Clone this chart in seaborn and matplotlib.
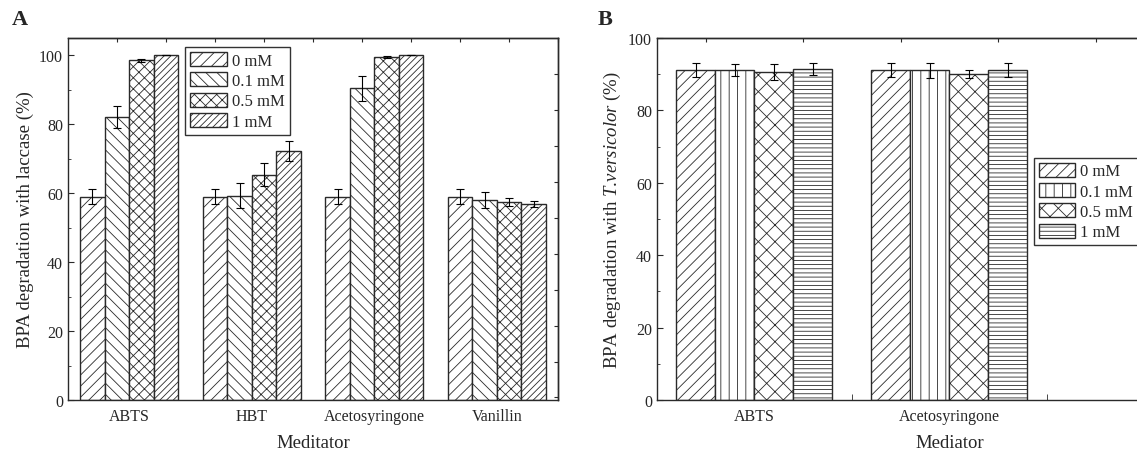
import numpy as np
import pandas as pd
import matplotlib
matplotlib.use('Agg')
import matplotlib.pyplot as plt
import seaborn as sns
from matplotlib.ticker import MultipleLocator, FixedLocator

# Data - panel A (laccase)
conc_levels = ['0 mM', '0.1 mM', '0.5 mM', '1 mM']
mediators_a = ['ABTS', 'HBT', 'Acetosyringone', 'Vanillin']
vals_a = {
    '0 mM':   [59.0, 59.0, 59.0, 59.0],
    '0.1 mM': [82.2, 59.2, 90.4, 58.0],
    '0.5 mM': [98.5, 65.4, 99.4, 57.4],
    '1 mM':   [100.0, 72.2, 100.0, 56.9],
}
errs_a = {
    '0 mM':   [2.1, 2.1, 2.1, 2.1],
    '0.1 mM': [3.2, 3.6, 3.7, 2.4],
    '0.5 mM': [0.4, 3.2, 0.3, 1.1],
    '1 mM':   [0.0, 3.0, 0.0, 0.8],
}

# Data - panel B (T. versicolor)
mediators_b = ['ABTS', 'Acetosyringone']
vals_b = {
    '0 mM':   [91.1, 91.1],
    '0.1 mM': [91.1, 91.1],
    '0.5 mM': [90.5, 90.0],
    '1 mM':   [91.5, 91.1],
}
errs_b = {
    '0 mM':   [1.9, 1.9],
    '0.1 mM': [1.6, 2.1],
    '0.5 mM': [2.2, 1.1],
    '1 mM':   [1.7, 2.0],
}

hatches_a = ['///', '\\\\\\', 'xxx', '/////']
hatches_b = ['///', '||', 'xx', '----']


def to_long(mediators, vals):
    rows = []
    for c in conc_levels:
        for m, v in zip(mediators, vals[c]):
            rows.append({'Mediator': m, 'conc': c, 'value': v})
    return pd.DataFrame(rows)


sns.set_style('ticks')
plt.rcParams['font.family'] = ['Liberation Serif', 'DejaVu Serif']
plt.rcParams['mathtext.fontset'] = 'custom'
plt.rcParams['mathtext.rm'] = 'Liberation Serif'
plt.rcParams['mathtext.it'] = 'Liberation Serif:italic'
plt.rcParams['hatch.linewidth'] = 0.6
plt.rcParams['axes.linewidth'] = 1.0

EDGE = '#2a2a2a'


def draw_panel(ax, mediators, vals, errs, hatches):
    df = to_long(mediators, vals)
    sns.barplot(data=df, x='Mediator', y='value', hue='conc', order=mediators,
                hue_order=conc_levels, palette=['white'] * 4, edgecolor=EDGE,
                linewidth=1.0, errorbar=None, width=0.8, ax=ax, legend=False)
    for cont, h, c in zip(ax.containers, hatches, conc_levels):
        xs, ys = [], []
        for bar in cont:
            bar.set_hatch(h)
            xs.append(bar.get_x() + bar.get_width() / 2)
            ys.append(bar.get_height())
        ax.errorbar(xs, ys, yerr=errs[c], fmt='none', ecolor='black',
                    elinewidth=0.8, capsize=3, capthick=0.8)
    for s in ax.spines.values():
        s.set_visible(True)
        s.set_color(EDGE)
    ax.tick_params(axis='both', which='both', direction='in', labelsize=11.5,
                   color=EDGE)
    ax.tick_params(axis='x', which='major', length=0, pad=6)
    ax.tick_params(axis='y', which='major', length=4.5)
    ax.tick_params(axis='y', which='minor', length=2.5)
    ax.yaxis.set_major_locator(MultipleLocator(20))
    ax.yaxis.set_minor_locator(MultipleLocator(10))


def add_legend(ax, anchor):
    ax.legend(ax.containers, conc_levels, loc='upper left',
              bbox_to_anchor=anchor, borderaxespad=0, fontsize=12,
              fancybox=False, edgecolor='#333333', framealpha=1,
              handlelength=2.2, handleheight=0.9, labelspacing=0.22,
              handletextpad=0.3, borderpad=0.3)


fig = plt.figure(figsize=(11.37, 4.52), dpi=100)

# Panel A
ax1 = fig.add_axes([0.0598, 0.1128, 0.431, 0.801])
draw_panel(ax1, mediators_a, vals_a, errs_a, hatches_a)
ax1.set_xlim(-0.5, 3.5)
ax1.set_ylim(0, 105)
ax1.set_xlabel('Meditator', fontsize=13.5, labelpad=7)
ax1.set_ylabel('BPA degradation with laccase (%)', fontsize=13.5)
top1 = ax1.secondary_xaxis('top')
top1.set_xticks(np.arange(-0.1, 3.6, 0.4))
top1.tick_params(direction='in', length=3, labeltop=False, color=EDGE)
right1 = ax1.secondary_yaxis('right')
right1.set_yticks(np.arange(94.6, 0, -10.43))
right1.tick_params(direction='in', length=3, labelright=False, color=EDGE)
add_legend(ax1, (0.239, 0.975))
fig.text(0.0105, 0.955, 'A', fontsize=16, fontweight='bold', va='center')

# Panel B
ax2 = fig.add_axes([0.5778, 0.1128, 0.5145, 0.801])
draw_panel(ax2, mediators_b, vals_b, errs_b, hatches_b)
ax2.set_xlim(-0.5, 2.5)
ax2.set_ylim(0, 100)
ax2.xaxis.set_minor_locator(FixedLocator([0.5, 1.5]))
ax2.tick_params(axis='x', which='minor', length=4, bottom=True)
ax2.set_xlabel('Mediator', fontsize=13.5, labelpad=7)
ax2.set_ylabel('BPA degradation with $\\mathit{T.\\!versicolor}$ (%)', fontsize=13.5)
top2 = ax2.secondary_xaxis('top')
top2.set_xticks(np.arange(-0.25, 2.5, 0.5))
top2.tick_params(direction='in', length=3, labeltop=False, color=EDGE)
add_legend(ax2, (0.644, 0.669))
fig.text(0.526, 0.955, 'B', fontsize=16, fontweight='bold', va='center')

fig.savefig('out.png', dpi=100)
